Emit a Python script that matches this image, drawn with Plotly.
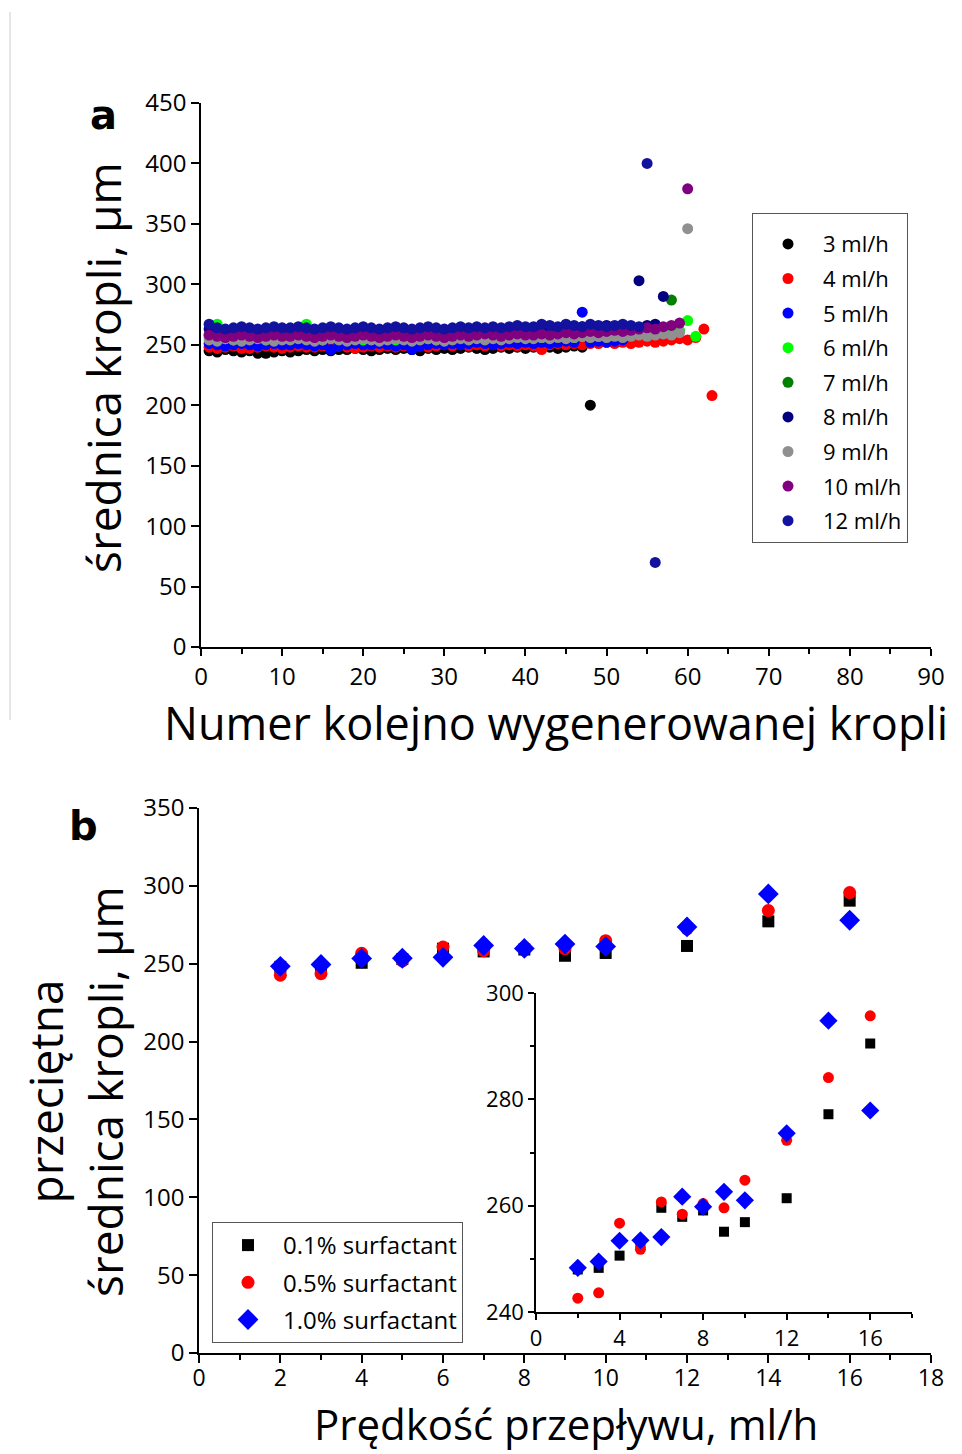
import plotly.graph_objects as go

W, H = 962, 1454
FONT = "Open Sans"

# ---------------- Panel a data ----------------
rate_labels = ["3 ml/h", "4 ml/h", "5 ml/h", "6 ml/h", "7 ml/h", "8 ml/h", "9 ml/h", "10 ml/h", "12 ml/h"]
rate_colors = ["#000000", "#ff0000", "#0000ff", "#00ff00", "#008000", "#000080", "#909090", "#800080", "#12129e"]

d3 = [245, 244, 246, 245, 244, 245, 243, 243, 244, 245,
      244, 245, 246, 245, 246, 245, 246, 246, 247, 246,
      245, 246, 247, 246, 247, 246, 245, 247, 246, 247,
      246, 247, 248, 247, 246, 247, 248, 247, 248, 247,
      248, 249, 248, 247, 248, 249, 248, 200]
d4 = [248, 247, 248, 249, 247, 247, 248, 249, 248, 247,
      248, 249, 248, 248, 249, 248, 249, 248, 247, 248,
      249, 248, 249, 248, 249, 250, 249, 248, 249, 250,
      249, 250, 249, 250, 249, 250, 249, 250, 249, 250,
      249, 246, 250, 251, 250, 251, 250, 251, 251, 252,
      251, 252, 251, 252, 253, 252, 253, 254, 255, 254,
      256, 263, 208]
d5 = [251, 250, 249, 250, 251, 250, 249, 250, 251, 250,
      250, 251, 250, 249, 250, 246, 249, 250, 251, 250,
      250, 251, 250, 249, 250, 246, 249, 250, 251, 250,
      251, 250, 251, 252, 251, 250, 251, 252, 251, 252,
      251, 252, 251, 252, 253, 252, 277, 252, 253, 252,
      253, 254]
d6 = [256, 267, 255, 254, 256, 255, 256, 254, 255, 256,
      255, 256, 267, 255, 254, 256, 255, 256, 255, 254,
      255, 256, 255, 254, 256, 255, 256, 255, 254, 256,
      255, 256, 255, 256, 257, 256, 255, 256, 257, 256,
      257, 256, 257, 258, 257, 256, 257, 258, 257, 258,
      258, 257, 258, 259, 258, 259, 260, 260, 262, 270,
      257]
d7 = [258, 257, 258, 259, 258, 257, 258, 259, 258, 257,
      258, 259, 258, 257, 258, 259, 258, 257, 258, 259,
      258, 257, 258, 259, 258, 257, 258, 259, 258, 259,
      258, 259, 260, 259, 258, 259, 260, 259, 260, 259,
      260, 259, 260, 261, 260, 261, 260, 261, 262, 261,
      262, 261, 262, 263, 262, 263, 264, 287]
d8 = [263, 262, 261, 262, 263, 262, 261, 262, 263, 262,
      262, 263, 262, 261, 262, 263, 262, 261, 262, 263,
      262, 261, 262, 263, 262, 261, 262, 263, 262, 261,
      262, 263, 262, 263, 262, 263, 262, 263, 264, 263,
      263, 264, 263, 264, 265, 264, 265, 264, 265, 266,
      265, 266, 265, 303, 266, 267, 290]
d9 = [254, 253, 255, 254, 253, 254, 255, 254, 253, 254,
      254, 255, 254, 253, 254, 255, 254, 253, 254, 255,
      254, 253, 254, 255, 254, 253, 254, 255, 254, 253,
      254, 255, 254, 255, 254, 255, 254, 255, 256, 255,
      255, 256, 255, 256, 255, 256, 257, 256, 257, 256,
      257, 256, 257, 258, 257, 258, 259, 258, 260, 346]
d10 = [258, 257, 256, 257, 258, 257, 256, 257, 258, 257,
       257, 258, 257, 256, 257, 258, 257, 256, 257, 258,
       257, 256, 257, 258, 257, 256, 257, 258, 257, 256,
       257, 258, 257, 258, 259, 258, 257, 258, 259, 258,
       258, 259, 258, 259, 260, 259, 260, 261, 260, 261,
       262, 261, 262, 263, 264, 263, 265, 266, 268, 379]
d12 = [267, 264, 263, 264, 265, 264, 263, 264, 265, 264,
       264, 265, 264, 263, 264, 265, 264, 263, 264, 265,
       264, 263, 264, 265, 264, 263, 264, 265, 264, 263,
       264, 265, 264, 265, 264, 265, 264, 265, 266, 265,
       265, 267, 266, 265, 267, 266, 265, 267, 266, 265,
       266, 267, 266, 265, 400, 70]
rate_series = [d3, d4, d5, d6, d7, d8, d9, d10, d12]

# ---------------- Panel b data ----------------
flow = [2, 3, 4, 5, 6, 7, 8, 9, 10, 12, 14, 16]
surf_labels = ["0.1% surfactant", "0.5% surfactant", "1.0% surfactant"]
s01 = [248.0, 248.3, 250.6, 253.0, 259.6, 257.9, 259.1, 255.1, 256.9, 261.4, 277.2, 290.5]
s05 = [242.6, 243.6, 256.7, 251.8, 260.7, 258.4, 260.4, 259.6, 264.8, 272.3, 284.1, 295.7]
s10 = [248.3, 249.5, 253.4, 253.5, 254.1, 261.7, 259.8, 262.6, 261.0, 273.6, 294.8, 277.9]
surf_series = [s01, s05, s10]
surf_colors = ["#000000", "#ff0000", "#0000ff"]
surf_symbols = ["square", "circle", "diamond"]

fig = go.Figure()

for lab, col, ys in zip(rate_labels, rate_colors, rate_series):
    fig.add_trace(go.Scatter(
        x=list(range(1, len(ys) + 1)), y=ys, mode="markers", name=lab,
        marker=dict(color=col, size=11, line=dict(width=0)),
        xaxis="x", yaxis="y", legend="legend", legendgroup=lab))

main_sizes = [12, 13, 16]
inset_sizes = [10, 11, 14]
for lab, col, sym, ys, ms in zip(surf_labels, surf_colors, surf_symbols, surf_series, main_sizes):
    fig.add_trace(go.Scatter(
        x=flow, y=ys, mode="markers", name=lab,
        marker=dict(color=col, size=ms, symbol=sym, line=dict(width=0)),
        xaxis="x3", yaxis="y3", legend="legend2", legendgroup=lab))
for lab, col, sym, ys, isz in zip(surf_labels, surf_colors, surf_symbols, surf_series, inset_sizes):
    fig.add_trace(go.Scatter(
        x=flow, y=ys, mode="markers", name=lab, showlegend=False,
        marker=dict(color=col, size=isz, symbol=sym, line=dict(width=0)),
        xaxis="x5", yaxis="y5"))


def ax(**kw):
    base = dict(showline=True, linecolor="black", linewidth=1.5, showgrid=False,
                zeroline=False, ticks="outside", ticklen=8, tickwidth=1.5, automargin=False,
                tickcolor="black", tickfont=dict(family=FONT, size=24, color="black"))
    base.update(kw)
    return base


def minor(dt, ticks="outside", ln=5):
    return dict(dtick=dt, ticks=ticks, ticklen=ln, tickwidth=1.5, tickcolor="black", showgrid=False)


def px(xp):
    return xp / W


def py(yp):
    return 1 - yp / H


a_x = [px(201), px(931)]
a_y = [py(647), py(103)]
b_x = [px(199), px(931)]
b_y = [py(1353), py(808)]
i_x = [px(536), px(912)]
i_y = [py(1312), py(993)]

fig.update_layout(
    width=W, height=H, autosize=False,
    margin=dict(l=0, r=0, t=0, b=0, pad=0, autoexpand=False),
    paper_bgcolor="white", plot_bgcolor="white", showlegend=True,
    xaxis=ax(domain=a_x, anchor="y", range=[0, 90], dtick=10, tick0=0, ticklen=7, minor=minor(5)),
    yaxis=ax(domain=a_y, anchor="x", range=[0, 450], dtick=50, tick0=0),
    xaxis2=ax(overlaying="x", anchor="y", side="top", range=[0, 90], dtick=10, ticks="inside",
              showticklabels=False, minor=minor(5, "inside")),
    yaxis2=ax(overlaying="y", anchor="x", side="right", range=[0, 450], dtick=50, ticks="inside",
              showticklabels=False),
    xaxis3=ax(domain=b_x, anchor="y3", range=[0, 18], dtick=2, tick0=0, ticklen=8, ticklabelstandoff=-4,
              tickfont=dict(family=FONT, size=23, color="black"), minor=minor(1)),
    yaxis3=ax(domain=b_y, anchor="x3", range=[0, 350], dtick=50, tick0=0),
    xaxis4=ax(overlaying="x3", anchor="y3", side="top", range=[0, 18], dtick=2, ticks="inside",
              showticklabels=False, minor=minor(1, "inside")),
    yaxis4=ax(overlaying="y3", anchor="x3", side="right", range=[0, 350], dtick=50, ticks="inside",
              showticklabels=False),
    xaxis5=ax(domain=i_x, anchor="y5", range=[0, 18], dtick=4, tick0=0, ticklen=6,
              tickfont=dict(family=FONT, size=22, color="black"), minor=minor(2, "outside", 4)),
    yaxis5=ax(domain=i_y, anchor="x5", range=[240, 300], dtick=20, tick0=240, ticklen=6,
              tickfont=dict(family=FONT, size=22, color="black"), minor=minor(10, "outside", 4)),
    xaxis6=ax(overlaying="x5", anchor="y5", side="top", range=[0, 18], dtick=4, ticks="inside",
              ticklen=5, showticklabels=False),
    yaxis6=ax(overlaying="y5", anchor="x5", side="right", range=[240, 300], dtick=10, ticks="inside",
              ticklen=5, showticklabels=False),
    legend=dict(x=px(752), y=py(213), xanchor="left", yanchor="top",
                bgcolor="white", bordercolor="#555555", borderwidth=1,
                font=dict(family=FONT, size=22, color="black"),
                title=dict(text=" ", font=dict(family=FONT, size=7)),
                tracegroupgap=3, itemwidth=60, traceorder="grouped"),
    legend2=dict(x=px(212), y=py(1222), xanchor="left", yanchor="top",
                 bgcolor="white", bordercolor="#555555", borderwidth=1,
                 font=dict(family=FONT, size=24, color="black"),
                 tracegroupgap=3, itemwidth=60, traceorder="grouped"),
)

ann_font = dict(family=FONT, size=46, color="black")
annotations = [
    dict(text="Numer kolejno wygenerowanej kropli", x=px(556), y=py(722), yanchor="middle",
         font=dict(family=FONT, size=45, color="black")),
    dict(text="średnica kropli, μm", x=px(103), y=py(368), yanchor="middle", font=ann_font, textangle=-90),
    dict(text="Prędkość przepływu, ml/h", x=px(566), y=0, yanchor="bottom",
         font=dict(family=FONT, size=42, color="black")),
    dict(text="przeciętna<br>średnica kropli, μm", x=px(75), y=py(1092), yanchor="middle",
         font=ann_font, textangle=-90),
    dict(text="<b>a</b>", x=px(103), y=py(115), yanchor="middle",
         font=dict(family="DejaVu Sans", size=40, color="black")),
    dict(text="<b>b</b>", x=px(83), y=py(826), yanchor="middle",
         font=dict(family="DejaVu Sans", size=40, color="black")),
]
for a in annotations:
    a.update(xref="paper", yref="paper", showarrow=False, xanchor="center")
fig.update_layout(annotations=annotations)

fig.add_shape(type="line", xref="paper", yref="paper", x0=px(10), x1=px(10), y0=py(720), y1=py(12),
              line=dict(color="#cccccc", width=1))

fig.write_html("out.html")
